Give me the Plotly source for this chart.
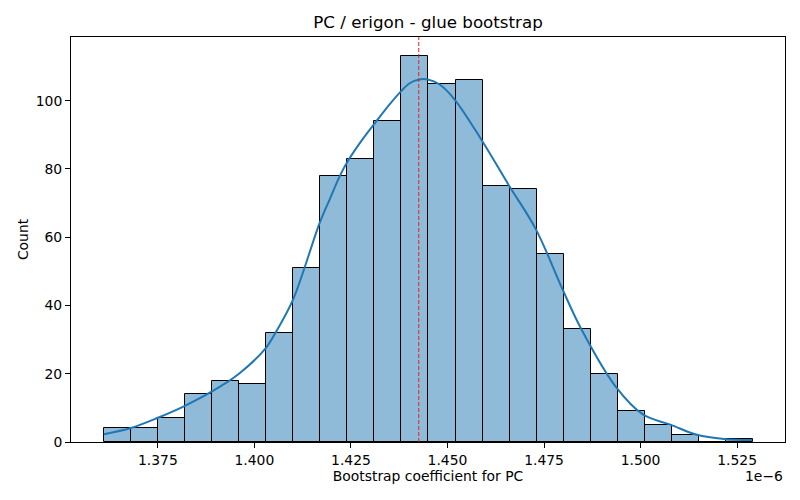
import numpy as np
import plotly.graph_objects as go

# histogramme bootstrap du coefficient PC (valeurs en unites de 1e-6)
counts = [4, 4, 7, 14, 18, 17, 32, 51, 78, 83, 94, 113,
          105, 106, 75, 74, 55, 33, 20, 9, 5, 2, 0, 1]
bin_start = 1.36095
bin_width = 0.00701

# courbe kde (x en 1e-6, y en nombre)
kde_x = [1.3610, 1.3680, 1.3750, 1.3820, 1.3890, 1.3960, 1.4030, 1.4059,
         1.4100, 1.4169, 1.4195, 1.4221, 1.4242, 1.4277, 1.4316, 1.4350,
         1.4380, 1.4402, 1.4427, 1.4449, 1.4479, 1.4518, 1.4587, 1.4660,
         1.4729, 1.4798, 1.4845, 1.4935, 1.5007, 1.5077, 1.5146, 1.5216,
         1.5289]
kde_y = [2.3, 4.1, 7.1, 10.6, 14.8, 20.0, 27.6, 32.9,
         41.7, 64.2, 71.1, 77.9, 82.3, 88.2, 94.0, 98.9,
         102.8, 105.1, 106.2, 106.2, 104.8, 100.4, 88.7, 75.0,
         62.3, 44.7, 33.4, 16.3, 8.0, 5.1, 2.1, 0.9,
         0.6]

mean_value = 1.44256
x_ticks = [1.375, 1.400, 1.425, 1.450, 1.475, 1.500, 1.525]
y_ticks = [0, 20, 40, 60, 80, 100]

centers = bin_start + bin_width * (np.arange(len(counts)) + 0.5)

fig = go.Figure()
fig.add_trace(go.Bar(x=centers, y=counts, width=bin_width,
                     marker=dict(color='rgba(31,119,180,0.5)',
                                 line=dict(color='black', width=1)),
                     showlegend=False))
fig.add_trace(go.Scatter(x=kde_x, y=kde_y, mode='lines', line_shape='spline',
                         line=dict(color='#1f77b4', width=2), showlegend=False))
fig.add_trace(go.Scatter(x=[mean_value, mean_value], y=[0, 118.65], mode='lines',
                         line=dict(color='#e32020', width=1, dash='4px,2px'),
                         showlegend=False))

# la page a une marge de 8px, on compense dans les marges
font = 'DejaVu Sans'
fig.update_layout(
    width=800, height=500,
    margin=dict(l=63, r=23, t=29, b=66),
    paper_bgcolor='white', plot_bgcolor='white',
    font=dict(family=font, size=13.9, color='black'),
    bargap=0,
    title=dict(text='PC / erigon - glue bootstrap', x=0.525, xanchor='center',
               y=0.972, yanchor='middle', font=dict(size=16.7, family=font)),
    annotations=[dict(text='1e\u22126', xref='paper', yref='paper', x=1.0, y=-0.085,
                      xanchor='right', yanchor='middle', showarrow=False,
                      font=dict(size=13.9, family=font))],
)
fig.update_xaxes(range=[1.3525, 1.5374], tickvals=x_ticks, tickformat='.3f',
                 automargin=False, tickfont=dict(size=13.9),
                 showgrid=False, zeroline=False, showline=True, linecolor='black',
                 linewidth=1, mirror=True, ticks='outside', ticklen=5, tickcolor='black',
                 title=dict(text='Bootstrap coefficient for PC', standoff=4,
                            font=dict(size=13.9)))
fig.update_yaxes(range=[0, 118.65], tickvals=y_ticks,
                 automargin=False, tickfont=dict(size=13.9),
                 showgrid=False, zeroline=False, showline=True, linecolor='black',
                 linewidth=1, mirror=True, ticks='outside', ticklen=5, tickcolor='black',
                 title=dict(text='Count', standoff=3, font=dict(size=13.9)))

fig.write_html('out.html')
